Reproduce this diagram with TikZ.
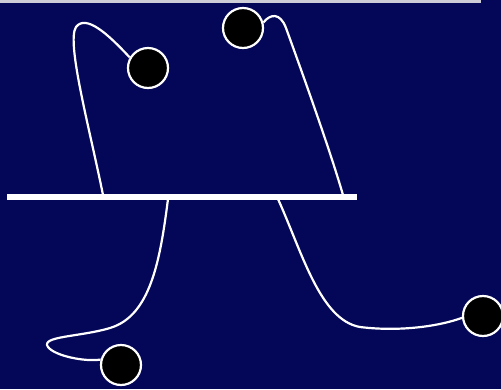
\documentclass[tikz,border=0pt]{standalone}
\definecolor{navy}{RGB}{4,6,88}
\definecolor{strip}{RGB}{205,205,215}
\tikzset{
  ball/.style={circle, fill=black, draw=white, line width=2.2pt, minimum size=40pt, inner sep=0pt},
  strand/.style={draw=white, line width=2.2pt},
}
\begin{document}
\begin{tikzpicture}[x=1pt,y=-1pt]
\useasboundingbox (0,0) rectangle (501,389);
\fill[navy] (0,0) rectangle (501,389);
\fill[strip] (0,0) rectangle (481,2.5);
% membrane
\node[fill=white, minimum width=350pt, minimum height=6.5pt, inner sep=0pt] (bar) at (182,197) {};
% balls
\node[ball] (b1) at (148,68) {};
\node[ball] (b2) at (243,28) {};
\node[ball] (b3) at (121,365) {};
\node[ball] (b4) at (483,316) {};
% anchor points on the membrane
\coordinate (pA) at (103,195);
\coordinate (pB) at (343,195);
\coordinate (pC) at (168,199);
\coordinate (pD) at (278,199);
% strands
\draw[strand] (pA) .. controls (90,130) and (66,42) .. (76,27)
  .. controls (86,14) and (108,34) .. (b1.150);
\draw[strand] (b2.15) .. controls (270,14) and (280,12) .. (286,28)
  .. controls (302,72) and (330,150) .. (pB);
\draw[strand] (pC) .. controls (160,262) and (150,316) .. (110,328)
  .. controls (80,337) and (40,336) .. (48,347)
  .. controls (55,356) and (85,362) .. (b3.165);
\draw[strand] (pD) .. controls (302,252) and (320,320) .. (360,327)
  .. controls (400,332) and (440,326) .. (b4.185);
\end{tikzpicture}
\end{document}
